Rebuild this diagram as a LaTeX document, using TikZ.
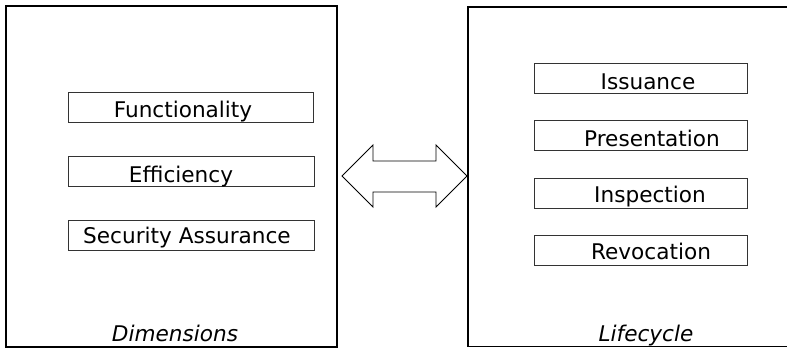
\documentclass[tikz,border=0pt]{standalone}
\usepackage{fontspec}
\setmainfont{DejaVu Sans}
\begin{document}
\begin{tikzpicture}[x=1pt,y=-1pt,
  outer/.style={draw=black, line width=1.3pt},
  item/.style={draw=black!80, line width=0.9pt, minimum height=30pt, inner sep=0pt},
  label/.style={anchor=base, inner sep=0pt, font=\fontsize{21.6}{25}\selectfont},
  caption/.style={anchor=base, font=\fontsize{21.6}{25}\selectfont\itshape, inner sep=0pt}]
\useasboundingbox (0,0) rectangle (787,349);
\clip (0,0) rectangle (787,349);
% left panel
\draw[outer] (6,6) rectangle (337,347);
% right panel (open to the right)
\draw[outer] (800,7) -- (468,7) -- (468,346.5) -- (800,346.5);
% dimension items
\node[item, minimum width=245pt] (func) at (190.5,107) {};
\node[label] (functx) at (183,117) {Functionality};
\node[item, minimum width=246pt] (eff) at (191,171) {};
\node[label] (efftx) at (181,182) {Efficiency};
\node[item, minimum width=246pt] (sec) at (191,235) {};
\node[label] (sectx) at (187,243) {Security Assurance};
% lifecycle items
\node[item, minimum width=213pt] (iss) at (640.5,78) {};
\node[label] (isstx) at (648,89) {Issuance};
\node[item, minimum width=213pt] (pre) at (640.5,135.5) {};
\node[label] (pretx) at (652,146) {Presentation};
\node[item, minimum width=213pt] (ins) at (640.5,193) {};
\node[label] (instx) at (650,202) {Inspection};
\node[item, minimum width=213pt] (rev) at (640.5,250) {};
\node[label] (revtx) at (651,259) {Revocation};
% captions
\node[caption] (dim) at (175,341) {Dimensions};
\node[caption] (life) at (646,341) {Lifecycle};
% double arrow
\draw[line width=0.9pt, line join=miter] (342,176) -- (373,145) -- (373,161) -- (436,161) -- (436,145) -- (467,176)
  -- (436,207) -- (436,192) -- (373,192) -- (373,207) -- cycle;
\end{tikzpicture}
\end{document}
